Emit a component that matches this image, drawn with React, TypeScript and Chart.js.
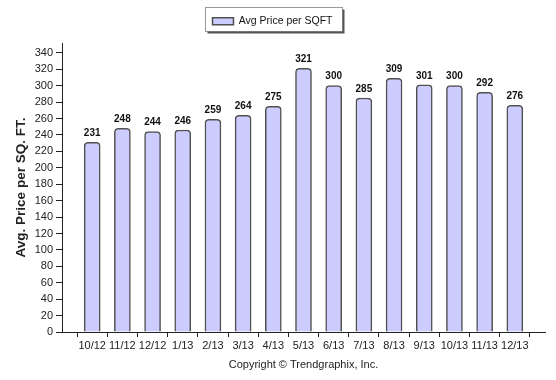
import React, { useEffect, useRef } from "react";
import { Chart, registerables } from "chart.js";

Chart.register(...registerables);

const categories = ["10/12", "11/12", "12/12", "1/13", "2/13", "3/13", "4/13", "5/13", "6/13", "7/13", "8/13", "9/13", "10/13", "11/13", "12/13"];
const avgPricePerSqft = [231, 248, 244, 246, 259, 264, 275, 321, 300, 285, 309, 301, 300, 292, 276];
const yTicks = [0, 20, 40, 60, 80, 100, 120, 140, 160, 180, 200, 220, 240, 260, 280, 300, 320, 340];
const seriesName = "Avg Price per SQFT";
const yTitle = "Avg. Price per SQ. FT.";
const xTitle = "Copyright \u00A9 Trendgraphix, Inc.";

const FONT = "'Liberation Sans', Arial, sans-serif";

const legendFramePlugin = {
  id: "legendFrame",
  afterInit(chart: any) {
    const lg = chart.legend;
    if (lg && !lg.__patched) {
      const orig = lg.fit.bind(lg);
      lg.fit = function () {
        orig();
        this.height = 36;
      };
      lg.__patched = true;
    }
  },
  afterDraw(chart: any) {
    const lg = chart.legend;
    if (!lg || !lg.legendHitBoxes || !lg.legendHitBoxes.length) return;
    const hb = lg.legendHitBoxes[0];
    const ctx = chart.ctx;
    const l = Math.round(hb.left - 7) + 0.5;
    const r = Math.round(hb.left + hb.width + 9) + 0.5;
    const t = 7.5;
    const b = 31.5;
    ctx.save();
    ctx.strokeStyle = "#9a9a9a";
    ctx.lineWidth = 1;
    ctx.strokeRect(l, t, r - l, b - t);
    ctx.strokeStyle = "#555";
    ctx.lineWidth = 2;
    ctx.beginPath();
    ctx.moveTo(r + 1, t + 2);
    ctx.lineTo(r + 1, b + 1);
    ctx.lineTo(l + 2, b + 1);
    ctx.stroke();
    ctx.restore();
  },
};

const dataLabelPlugin = {
  id: "dataLabels",
  afterDatasetsDraw(chart: any) {
    const ctx = chart.ctx;
    const meta = chart.getDatasetMeta(0);
    const data = chart.data.datasets[0].data;
    ctx.save();
    ctx.font = `bold 10px ${FONT}`;
    ctx.fillStyle = "#111";
    ctx.textAlign = "center";
    ctx.textBaseline = "bottom";
    meta.data.forEach((el: any, i: number) => {
      const v = data[i];
      if (v == null) return;
      ctx.fillText(String(v), el.x, el.y - 4);
    });
    ctx.restore();
  },
};

export default function App() {
  const ref = useRef<HTMLCanvasElement>(null);
  useEffect(() => {
    if (!ref.current) return;
    const labels = ["", ...categories, ""];
    const values = [null, ...avgPricePerSqft, null];
    const chart = new Chart(ref.current, {
      type: "bar",
      data: {
        labels,
        datasets: [
          {
            label: seriesName,
            data: values as any,
            backgroundColor: "#ccccff",
            borderColor: "#505050",
            borderWidth: 1.5,
            borderRadius: { topLeft: 4, topRight: 4, bottomLeft: 0, bottomRight: 0 },
            borderSkipped: "bottom",
            barThickness: 16,
          },
        ],
      },
      options: {
        animation: false,
        responsive: false,
        maintainAspectRatio: false,
        layout: { padding: { top: 7, right: 11, bottom: 0, left: 0 } },
        plugins: {
          legend: {
            display: true,
            position: "top",
            labels: {
              boxWidth: 21,
              boxHeight: 7,
              padding: 9,
              color: "#111",
              font: { family: FONT, size: 10.5 },
            },
          },
          tooltip: { enabled: false },
        },
        scales: {
          x: {
            type: "category",
            offset: false,
            grid: { display: true, drawOnChartArea: false, drawTicks: true, tickLength: 5, color: "#222", lineWidth: 1 },
            border: { display: true, color: "#222", width: 1 },
            ticks: { color: "#222", font: { family: FONT, size: 11 }, maxRotation: 0, autoSkip: false, padding: 2 },
            title: { display: true, text: xTitle, color: "#222", font: { family: FONT, size: 11 }, padding: { top: 2, bottom: 8 } },
            afterFit(scale: any) {
              scale.height = 48;
            },
          },
          y: {
            min: 0,
            max: 352,
            grid: { display: true, drawOnChartArea: false, drawTicks: true, tickLength: 6, color: "#222", lineWidth: 1 },
            border: { display: true, color: "#222", width: 1 },
            ticks: { color: "#222", font: { family: FONT, size: 11 }, padding: 3 },
            afterBuildTicks(scale: any) {
              scale.ticks = yTicks.map((v) => ({ value: v }));
            },
            title: { display: true, text: yTitle, color: "#222", font: { family: FONT, size: 13.5, weight: "bold" }, padding: { top: 13, bottom: 0 } },
            afterFit(scale: any) {
              scale.width = 62;
            },
          },
        },
      },
      plugins: [legendFramePlugin, dataLabelPlugin],
    });
    return () => chart.destroy();
  }, []);
  return (
    <div style={{ position: "fixed", left: 0, top: 0, width: 556, height: 380, background: "#fff" }}>
      <canvas ref={ref} width={556} height={380} style={{ width: 556, height: 380, display: "block" }} />
    </div>
  );
}
